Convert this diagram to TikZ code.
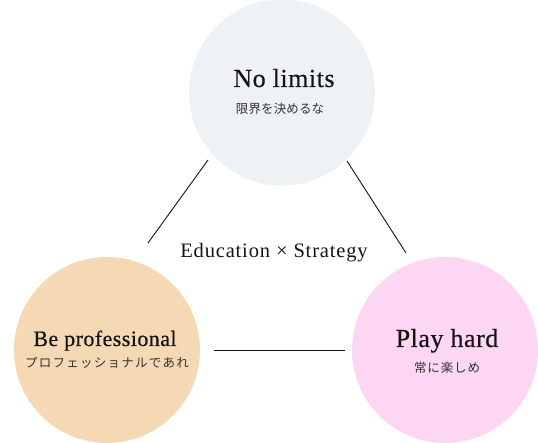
\documentclass[tikz,border=0pt]{standalone}
\usepackage{fontspec}
\setmainfont{Liberation Serif}
\newfontfamily\titlefont[LetterSpace=2,FakeBold=0.4]{Liberation Serif}
\newfontfamily\midfont[LetterSpace=4]{Liberation Serif}
\newfontfamily\jpfontA[LetterSpace=1]{Noto Sans CJK JP}
\newfontfamily\jpfontB[LetterSpace=10]{Noto Sans CJK JP}
\newfontfamily\jpfontC[LetterSpace=7]{Noto Sans CJK JP}
\definecolor{topfill}{RGB}{238,242,245}
\definecolor{leftfill}{RGB}{245,217,180}
\definecolor{rightfill}{RGB}{252,214,242}
\definecolor{ink}{RGB}{20,20,20}
\definecolor{jpink}{RGB}{51,51,51}
\begin{document}
\begin{tikzpicture}[x=1pt,y=-1pt,
  bubble/.style={circle,minimum size=186pt,inner sep=0pt,draw=none},
  title/.style={anchor=base,inner sep=0pt,text=ink,font=\titlefont\fontsize{26}{30}\selectfont},
  sub/.style={anchor=base,inner sep=0pt,text=jpink},
  link/.style={draw=ink,line width=0.9pt}]
\useasboundingbox (0,0) rectangle (538,443);
\node[bubble,fill=topfill] (top) at (282,92.5) {};
\node[bubble,fill=leftfill] (left) at (107,350) {};
\node[bubble,fill=rightfill] (right) at (445,350) {};
\node[title] (toptitle) at (284,87) {No limits};
\node[sub,font=\jpfontA\fontsize{12.5}{14}\selectfont] (topsub) at (280,114) {限界を決めるな};
\node[title,font=\titlefont\fontsize{22}{26}\selectfont] (lefttitle) at (105,346) {Be professional};
\node[sub,font=\jpfontB\fontsize{12.5}{14}\selectfont] (leftsub) at (107,368) {プロフェッショナルであれ};
\node[title] (righttitle) at (447,347) {Play hard};
\node[sub,font=\jpfontC\fontsize{12.5}{14}\selectfont] (rightsub) at (447,373) {常に楽しめ};
\node[anchor=base,inner sep=0pt,text=ink,font=\midfont\fontsize{20.5}{24}\selectfont] (center) at (274,258) {Education × Strategy};
\coordinate (tl1) at (208,160);
\coordinate (tl2) at (148,243);
\coordinate (tr1) at (347,161);
\coordinate (tr2) at (406,253);
\coordinate (bl1) at (214,350);
\coordinate (bl2) at (345,350);
\draw[link] (tl1) -- (tl2);
\draw[link] (tr1) -- (tr2);
\draw[link] (bl1) -- (bl2);
\end{tikzpicture}
\end{document}
